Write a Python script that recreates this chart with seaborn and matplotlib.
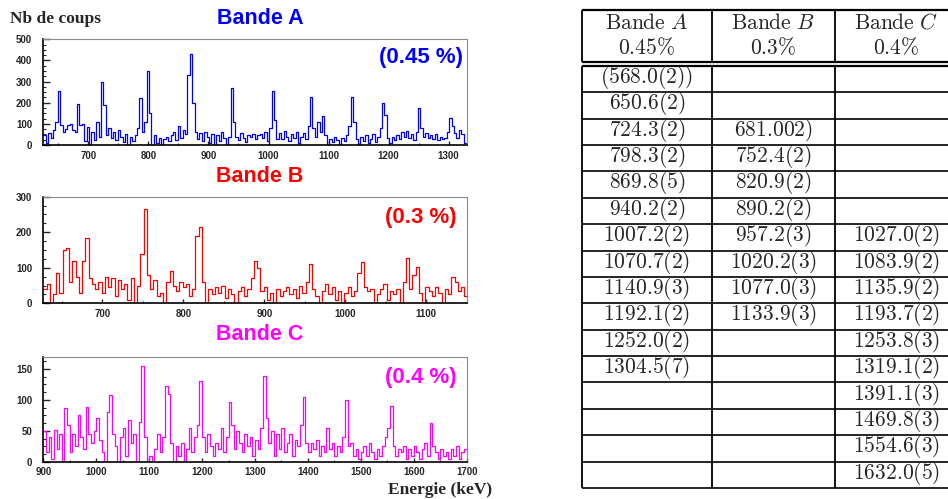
import numpy as np
import pandas as pd
import seaborn as sns
import matplotlib.pyplot as plt
from matplotlib.ticker import MultipleLocator

# spectra: counts per bin
start_a, width_a = 625, 4
counts_a = [45, 10, 55, 35, 70, 110, 255, 95, 60, 75,
            95, 100, 70, 60, 195, 95, 100, 20, 85, 0,
            60, 25, 110, 40, 300, 190, 45, 80, 35, 60,
            25, 70, 40, 15, 50, 0, 40, 20, 45, 80,
            220, 60, 110, 350, 150, 0, 45, 10, 35, 0,
            30, 40, 20, 45, 60, 25, 90, 35, 70, 50,
            330, 430, 200, 60, 30, 55, 20, 60, 40, 10,
            50, 0, 45, 20, 60, 35, 0, 40, 270, 110,
            40, 25, 55, 35, 15, 45, 40, 50, 30, 45,
            50, 35, 60, 20, 80, 255, 120, 30, 55, 30,
            65, 40, 20, 50, 35, 60, 10, 40, 55, 30,
            90, 225, 80, 40, 110, 60, 135, 45, 0, 30,
            15, 40, 25, 0, 35, 20, 45, 90, 225, 110,
            30, 0, 40, 20, 45, 10, 30, 50, 15, 40,
            80, 200, 140, 35, 10, 40, 25, 45, 30, 60,
            40, 65, 35, 50, 25, 60, 175, 80, 40, 55,
            35, 45, 30, 50, 25, 40, 30, 35, 60, 130,
            90, 55, 35, 70, 50, 10]

start_b, width_b = 627, 4
counts_b = [40, 55, 0, 25, 85, 30, 150, 155, 60, 120,
            75, 30, 120, 185, 70, 55, 40, 60, 30, 75,
            45, 70, 20, 65, 40, 55, 10, 70, 0, 50,
            140, 265, 80, 40, 65, 20, 30, 0, 60, 92,
            50, 35, 60, 45, 55, 20, 40, 190, 215, 60,
            0, 40, 25, 45, 30, 50, 15, 40, 25, 0,
            35, 45, 20, 40, 70, 120, 100, 35, 45, 10,
            30, 0, 40, 20, 35, 45, 25, 40, 15, 50,
            30, 60, 110, 40, 20, 0, 35, 55, 25, 45,
            10, 35, 0, 30, 45, 20, 35, 85, 115, 45,
            35, 40, 0, 25, 40, 55, 10, 35, 25, 40,
            0, 60, 128, 40, 80, 103, 30, 0, 45, 35,
            20, 45, 30, 0, 40, 25, 75, 60, 35, 45,
            20]

start_c, width_c = 900, 5
counts_c = [50, 15, 40, 5, 52, 20, 45, 0, 87, 60,
            15, 45, 25, 75, 40, 20, 88, 45, 30, 50,
            70, 35, 15, 0, 80, 108, 45, 25, 0, 40,
            55, 10, 67, 30, 45, 0, 65, 155, 40, 0,
            10, 0, 20, 45, 15, 40, 122, 110, 30, 0,
            25, 10, 30, 0, 20, 55, 15, 40, 60, 130,
            40, 15, 45, 25, 10, 30, 20, 55, 15, 40,
            97, 60, 20, 50, 30, 15, 45, 25, 40, 10,
            35, 20, 55, 138, 70, 30, 50, 10, 45, 20,
            55, 15, 30, 45, 10, 35, 25, 60, 105, 30,
            15, 30, 20, 35, 10, 25, 15, 55, 20, 30,
            10, 25, 15, 40, 100, 25, 30, 10, 20, 5,
            15, 25, 10, 30, 15, 5, 20, 10, 25, 40,
            55, 90, 25, 10, 20, 15, 25, 5, 20, 10,
            25, 15, 5, 20, 30, 10, 62, 25, 15, 5,
            20, 10, 15, 5, 20, 10, 25, 5, 15, 20]

# table of transition energies
bands = ["A", "B", "C"]
percents = ["0.45", "0.3", "0.4"]
col_a = ["(568.0(2))", "650.6(2)", "724.3(2)", "798.3(2)", "869.8(5)", "940.2(2)",
         "1007.2(2)", "1070.7(2)", "1140.9(3)", "1192.1(2)", "1252.0(2)", "1304.5(7)",
         "", "", "", ""]
col_b = ["", "", "681.002)", "752.4(2)", "820.9(2)", "890.2(2)", "957.2(3)",
         "1020.2(3)", "1077.0(3)", "1133.9(3)", "", "", "", "", "", ""]
col_c = ["", "", "", "", "", "", "1027.0(2)", "1083.9(2)", "1135.9(2)", "1193.7(2)",
         "1253.8(3)", "1319.1(2)", "1391.1(3)", "1469.8(3)", "1554.6(3)", "1632.0(5)"]

sns.set_style("ticks")
plt.rcParams['mathtext.fontset'] = 'cm'
plt.rcParams['font.family'] = ['Liberation Sans', 'DejaVu Sans']

W, H = 948, 499
fig = plt.figure(figsize=(W / 100, H / 100), dpi=100)


def px(x, y):
    return x / W, 1 - y / H


def plot_spectrum(rect, start, width, counts, color, xlim, ylim, ymaj, ymin_step):
    left, top, right, bottom = rect
    ax = fig.add_axes([left / W, 1 - bottom / H, (right - left) / W, (bottom - top) / H])
    n = len(counts)
    df = pd.DataFrame({"energy": start + width * (np.arange(n) + 0.5),
                       "counts": counts})
    sns.histplot(data=df, x="energy", weights="counts", binwidth=width,
                 binrange=(start, start + n * width), element="step", fill=False,
                 color=color, linewidth=0.9, ax=ax)
    ax.set_xlim(*xlim)
    ax.set_ylim(*ylim)
    ax.set_xlabel("")
    ax.set_ylabel("")
    ax.xaxis.set_major_locator(MultipleLocator(100))
    ax.xaxis.set_minor_locator(MultipleLocator(50))
    ax.yaxis.set_major_locator(MultipleLocator(ymaj))
    ax.yaxis.set_minor_locator(MultipleLocator(ymin_step))
    ax.tick_params(axis="y", which="major", direction="in", length=5, width=1, pad=8, labelsize=7)
    ax.tick_params(axis="y", which="minor", direction="in", length=2.5, width=0.8)
    ax.tick_params(axis="x", which="major", direction="in", length=3, width=1, pad=4, labelsize=7)
    ax.tick_params(axis="x", which="minor", direction="in", length=1.5, width=0.8)
    for lab in ax.get_xticklabels() + ax.get_yticklabels():
        lab.set_fontweight("bold")
    for side in ["left", "bottom"]:
        ax.spines[side].set_color("black")
        ax.spines[side].set_linewidth(1.2)
    for side in ["top", "right"]:
        ax.spines[side].set_visible(True)
        ax.spines[side].set_color("#8a8a8a")
        ax.spines[side].set_linewidth(0.8)
    return ax


plot_spectrum((43.3, 39.3, 466.7, 145), start_a, width_a, counts_a, "#0000ff",
              (625, 1330), (0, 500), 100, 25)
plot_spectrum((43.3, 196.7, 466.7, 303.3), start_b, width_b, counts_b, "#ff0000",
              (627, 1150), (0, 300), 100, 25)
plot_spectrum((43.3, 356.7, 466.7, 461.7), start_c, width_c, counts_c, "#ff00ff",
              (900, 1700), (0, 170), 50, 12.5)

# titles and labels
fig.text(*px(10, 19), "Nb de coups", family="Liberation Serif", weight="bold",
         size=12.5, ha="left", va="center")
fig.text(*px(388, 490), "Energie (keV)", family="Liberation Serif", weight="bold",
         size=12.5, ha="left", va="center")
titles = [("Bande A", "(0.45 %)", "#0000ff", 18, 58, 463),
          ("Bande B", "(0.3 %)", "#ff0000", 176, 217, 457),
          ("Bande C", "(0.4 %)", "#ff00ff", 335, 377, 457)]
for name, pct, color, ty, py, pr in titles:
    fig.text(*px(260, ty), name, color=color, weight="bold", size=15.5,
             ha="center", va="center")
    fig.text(*px(pr, py), pct, color=color, weight="bold", size=16,
             ha="right", va="center")

# table drawn on an overlay in pixel units
axt = fig.add_axes([0, 0, 1, 1])
axt.set_xlim(0, W)
axt.set_ylim(H, 0)
axt.axis("off")

x_left, x_cols, x_end = 581.7, [711.7, 835], W
col_centers = [646.7, 773.3, 896.5]
head_top, head_bot = 10, 61.7
body_top, row_h = 65.7, 26.4
n_rows = len(col_a)
body_bot = body_top + n_rows * row_h

axt.hlines([head_top, head_bot, body_top], x_left, x_end, color="black", lw=1.6)
axt.hlines(body_top + row_h * np.arange(1, n_rows + 1), x_left, x_end, color="black", lw=1.2)
for xv in [x_left] + x_cols:
    axt.vlines(xv, head_top, head_bot, color="black", lw=1.3)
    axt.vlines(xv, body_top, body_bot, color="black", lw=1.3)

for xc, band, pct in zip(col_centers, bands, percents):
    axt.text(xc, 23, r"$\mathrm{Bande}\ " + band + "$", size=15.5, ha="center", va="center")
    axt.text(xc, 48.5, "$" + pct + r"\%$", size=15.5, ha="center", va="center")

for xc, col in zip(col_centers, [col_a, col_b, col_c]):
    for k, val in enumerate(col):
        if val:
            yc = body_top + (k + 0.5) * row_h - 1.5
            axt.text(xc, yc, "$" + val + "$", size=15.5, ha="center", va="center")

fig.savefig("out.png", dpi=100)
